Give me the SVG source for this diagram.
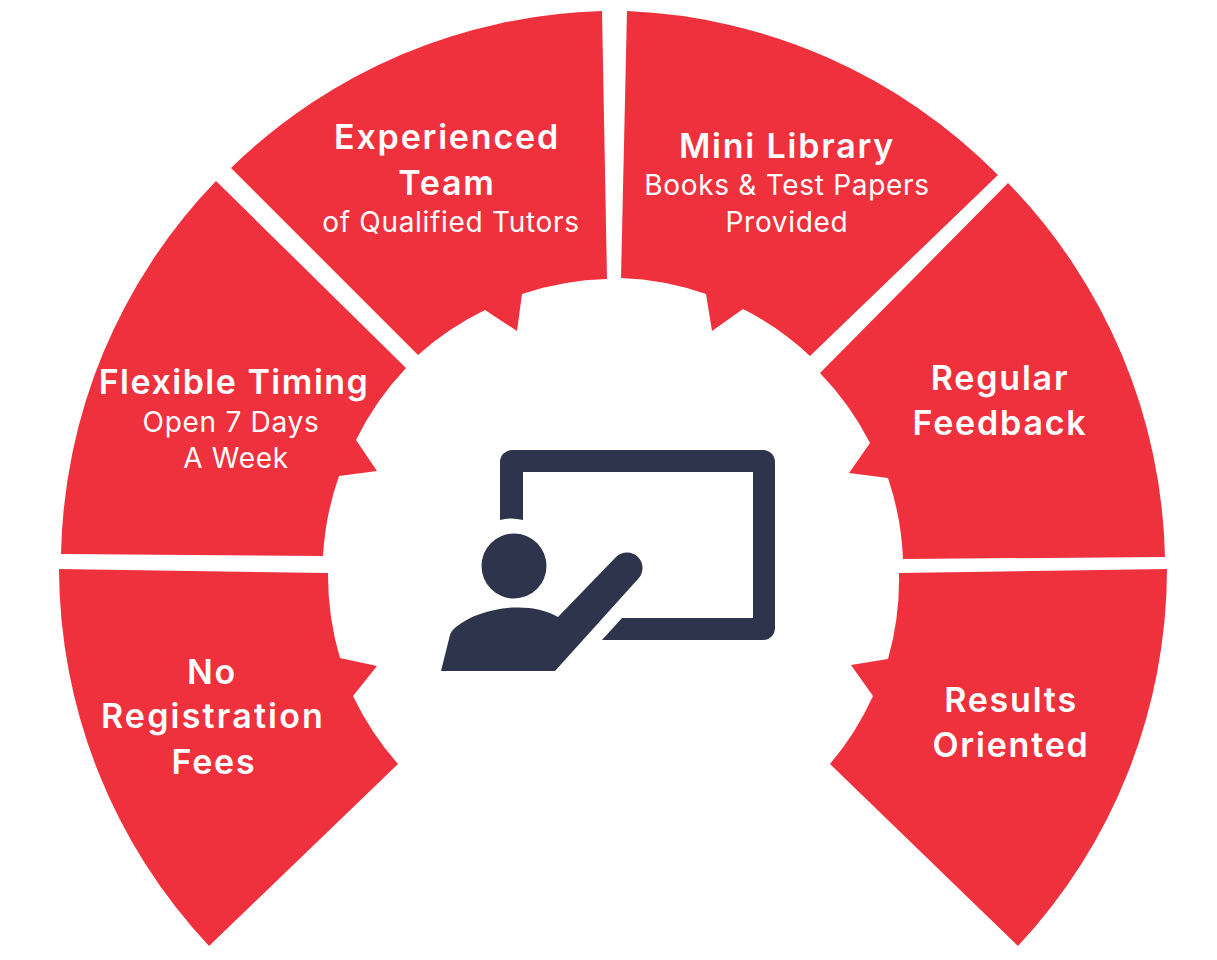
<svg xmlns="http://www.w3.org/2000/svg" width="1217" height="960" viewBox="0 0 1217 960">
<style>
.w{fill:#ef313e}
.i{fill:#2d344b}
text{fill:#fff;text-anchor:middle;font-family:"Inter","Liberation Sans",sans-serif}
.b{font-size:34px;font-weight:600;letter-spacing:1.8px}
.s{font-size:28px;font-weight:400;letter-spacing:.7px}
</style>
<rect width="1217" height="960" fill="#fff"/>
<g id="registration"><path class="w" d="M59 569A553 553 0 0 0 209 946L398 764A290 290 0 0 1 353 696L377 666L340 658A290 290 0 0 1 328 573Z"/><text class="b" x="212" y="684">No</text><text class="b" x="213" y="728" style="letter-spacing:2.2px">Registration</text><text class="b" x="214" y="774">Fees</text></g>
<g id="flexible"><path class="w" d="M61 554A553 553 0 0 1 216 181L406 368A290 290 0 0 0 356 440L377 471L339 476A290 290 0 0 0 323 556Z"/><text class="b" x="234" y="394" style="letter-spacing:1.5px">Flexible Timing</text><text class="s" x="231" y="432">Open 7 Days</text><text class="s" x="236" y="468">A Week</text></g>
<g id="experienced"><path class="w" d="M231 168A553 553 0 0 1 602 11L607 279A290 290 0 0 0 522 294L517 331L485 310A290 290 0 0 0 418 355Z"/><text class="b" x="447" y="149">Experienced</text><text class="b" x="447" y="195">Team</text><text class="s" x="451" y="232">of Qualified Tutors</text></g>
<g id="library"><path class="w" d="M627 11A553 553 0 0 1 998 175L810 356A290 290 0 0 0 743 309L712 331L706 294A290 290 0 0 0 621 278Z"/><text class="b" x="787" y="158">Mini Library</text><text class="s" x="787" y="195">Books &amp; Test Papers</text><text class="s" x="787" y="232">Provided</text></g>
<g id="feedback"><path class="w" d="M1008 183A553 553 0 0 1 1165 557L903 559A290 290 0 0 0 888 478L849 473L870 443A290 290 0 0 0 820 373Z"/><text class="b" x="1000" y="390">Regular</text><text class="b" x="1000" y="435">Feedback</text></g>
<g id="results"><path class="w" d="M1167 569A553 553 0 0 1 1018 946L830 764A290 290 0 0 0 873 696L851 665L888 659A290 290 0 0 0 899 573Z"/><text class="b" x="1011" y="712">Results</text><text class="b" x="1011" y="757">Oriented</text></g>
<g id="teacher"><path class="i" d="M500 520V462A12 12 0 0 1 512 450H763A12 12 0 0 1 775 462V628A12 12 0 0 1 763 640H602L622 618H753V472H523V520Q511 517 500 520Z"/><circle class="i" cx="514" cy="566" r="32.5"/><path class="i" d="M441 671L450 635Q451 631 456 627C480 607 530 600 558 617L616 557A15.500 15.500 0 0 1 638 579L555 671Z"/></g>
<g id="connectors"></g>
</svg>
